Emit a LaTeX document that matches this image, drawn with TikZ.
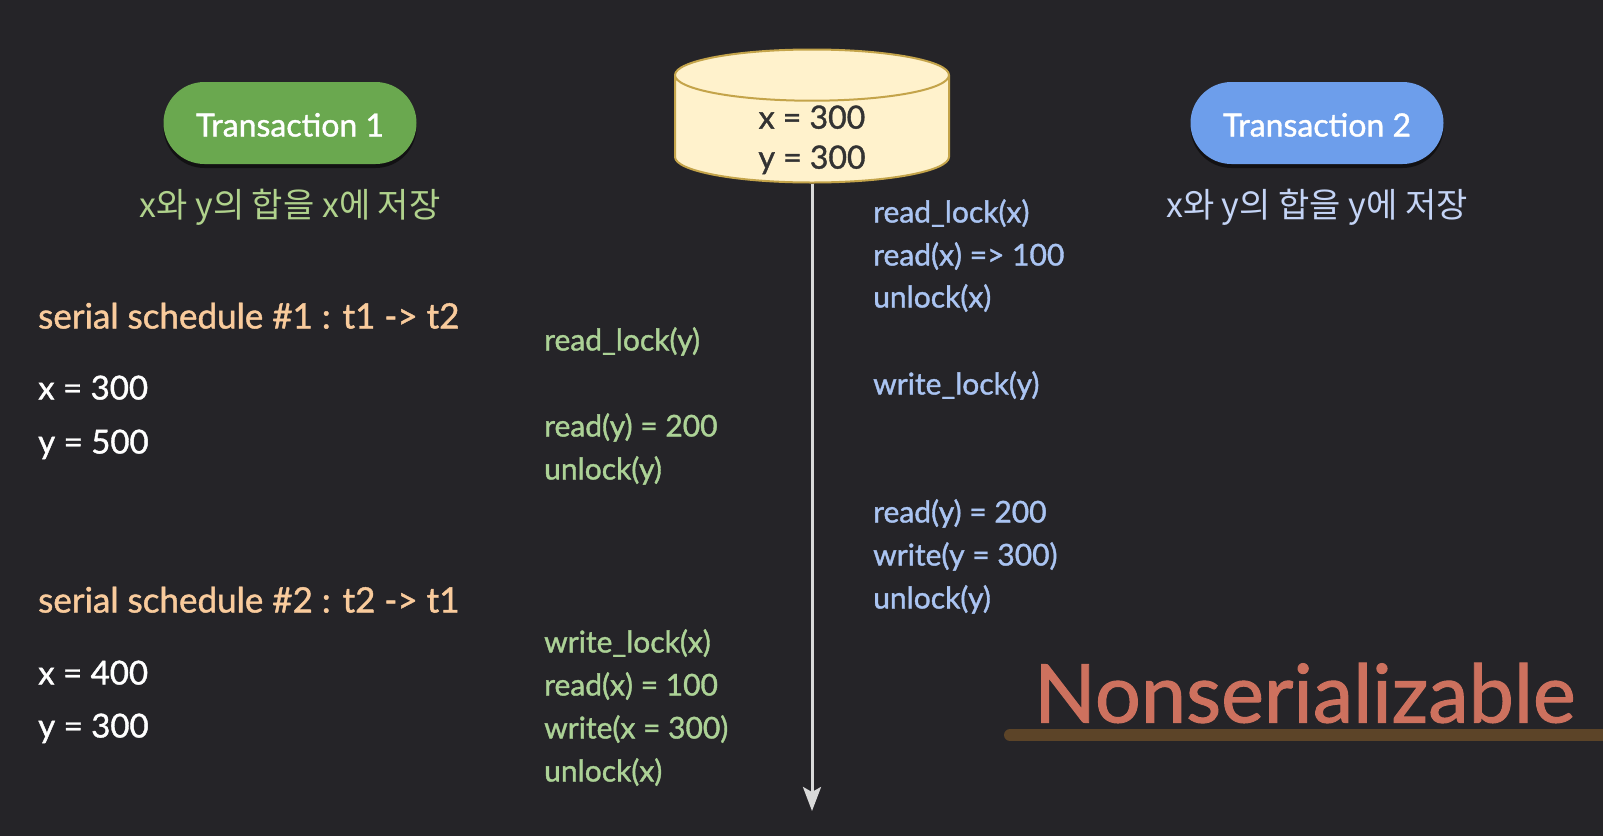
\documentclass[tikz,border=0pt]{standalone}
\usepackage{fontspec}
\setmainfont{Lato}[FakeBold=1.2]
\newfontfamily\kofont{Noto Sans CJK KR}
\usetikzlibrary{shapes.geometric,arrows.meta,shadows}
\definecolor{bgdark}{RGB}{37,36,40}
\definecolor{tgreen}{RGB}{106,168,79}
\definecolor{tblue}{RGB}{109,158,235}
\definecolor{kgreen}{RGB}{176,210,140}
\definecolor{kblue}{RGB}{196,212,246}
\definecolor{head}{RGB}{249,203,156}
\definecolor{opgreen}{RGB}{172,210,150}
\definecolor{opblue}{RGB}{170,196,242}
\definecolor{dbfill}{RGB}{255,242,204}
\definecolor{dbline}{RGB}{196,164,74}
\definecolor{warn}{RGB}{205,113,94}
\definecolor{ulbrown}{RGB}{92,68,40}
\tikzstyle{pill} = [rounded corners=41pt, minimum width=253pt, minimum height=82pt, text=white,
  text height=30pt, text depth=3pt, font=\fontsize{32}{38}\selectfont,
  drop shadow={fill=black, opacity=0.5, shadow xshift=0pt, shadow yshift=-4pt}]
\tikzstyle{note} = [font=\kofont\fontsize{34}{40}\selectfont]
\tikzstyle{line} = [anchor=west, inner sep=0pt, text height=30pt, text depth=7pt, font=\fontsize{30}{36}\selectfont]
\tikzstyle{db} = [cylinder, shape border rotate=90, aspect=0.45, draw=dbline, line width=2pt, fill=dbfill,
  minimum width=274pt, minimum height=133pt, text=black!80, font=\fontsize{32}{40}\selectfont]

\begin{document}
\begin{tikzpicture}[x=1pt,y=-1pt]
  \fill[bgdark] (0,0) rectangle (1603,836);
  \useasboundingbox (0,0) rectangle (1603,836);
  \node (a) at (290,123) [pill, fill=tgreen] {Transaction 1};
  \node (b) at (1317,123) [pill, fill=tblue] {Transaction 2};
  \node (c) at (812,116) [db, anchor=shape center]
    {\raisebox{-7pt}[25pt][9.5pt]{\begin{tabular}{@{}c@{}}x = 300\\y = 300\end{tabular}}};
  \node (d) at (290,207) [note, text=kgreen] {x와 y의 합을 x에 저장};
  \node (e) at (1317,207) [note, text=kblue] {x와 y의 합을 y에 저장};
  % serial schedules
  \node (f) at (38,317) [line, text=head, font=\fontsize{35}{40}\selectfont] {serial schedule \#1 : t1 -> t2};
  \node (g) at (38,388) [line, text=white, font=\fontsize{33}{38}\selectfont] {x = 300};
  \node (h) at (38,442) [line, text=white, font=\fontsize{33}{38}\selectfont] {y = 500};
  \node (i) at (38,601) [line, text=head, font=\fontsize{35}{40}\selectfont] {serial schedule \#2 : t2 -> t1};
  \node (j) at (38,673) [line, text=white, font=\fontsize{33}{38}\selectfont] {x = 400};
  \node (k) at (38,726) [line, text=white, font=\fontsize{33}{38}\selectfont] {y = 300};
  % transaction 1 steps
  \node (l) at (544,339) [line, text=opgreen] {read\_lock(y)};
  \node (m) at (544,425) [line, text=opgreen] {read(y) = 200};
  \node (n) at (544,468) [line, text=opgreen] {unlock(y)};
  \node (o) at (544,641) [line, text=opgreen] {write\_lock(x)};
  \node (p) at (544,684) [line, text=opgreen] {read(x) = 100};
  \node (q) at (544,727) [line, text=opgreen] {write(x = 300)};
  \node (r) at (544,770) [line, text=opgreen] {unlock(x)};
  % transaction 2 steps
  \node (s) at (873,211) [line, text=opblue] {read\_lock(x)};
  \node (t) at (873,254) [line, text=opblue] {read(x) => 100};
  \node (u) at (873,296) [line, text=opblue] {unlock(x)};
  \node (v) at (873,383) [line, text=opblue] {write\_lock(y)};
  \node (w) at (873,511) [line, text=opblue] {read(y) = 200};
  \node (x) at (873,554) [line, text=opblue] {write(y = 300)};
  \node (y) at (873,597) [line, text=opblue] {unlock(y)};
  \coordinate (z) at (812,811);
  \draw [-{Stealth[length=24pt,width=18pt,inset=5pt]}, line width=3pt, white!85!black] (c) -- (z);
  \draw [line width=12pt, line cap=round, ulbrown] (1010,735) -- (1615,735);
  \node (nz) at (1305,693) [text=warn, font=\fontsize{81}{92}\selectfont] {Nonserializable};
\end{tikzpicture}
\end{document}
